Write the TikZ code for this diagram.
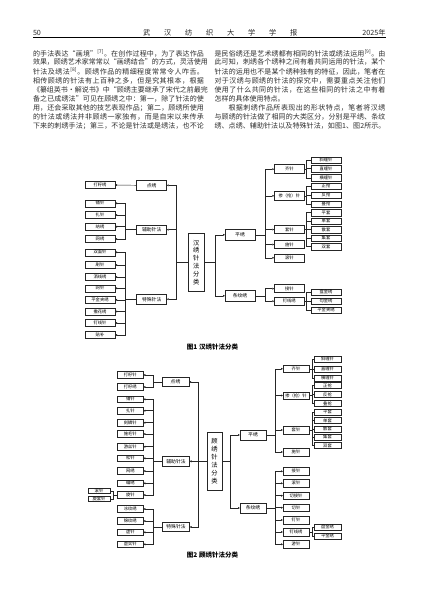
\documentclass[tikz,border=0pt]{standalone}
\usepackage{fontspec}
\setmainfont{Liberation Serif}
\newfontfamily\cjk{Noto Sans CJK SC}
\usetikzlibrary{arrows.meta}
\def\spreadtxt#1{#1\spreadnxt}
\def\spreadnxt#1{\ifx#1\relax\else\hfil#1\expandafter\spreadnxt\fi}
\newcommand\jline[1]{\hbox to 171pt{\spreadtxt#1\relax}}
\newcommand\rfA{\textsuperscript{[7]}}
\newcommand\rfB{\textsuperscript{[8]}}
\newcommand\rfC{\textsuperscript{[9]}}
\begin{document}
\begin{tikzpicture}[x=1pt,y=-1pt,
  every node/.style={inner sep=0pt, outer sep=0pt},
  txt/.style={font=\cjk\fontsize{7}{9}\selectfont, anchor=west, text=black!82},
  hd/.style={font=\cjk\fontsize{7.2}{9}\selectfont, text=black!85},
  bx/.style={draw=black!85, line width=0.45pt, fill=white, font=\cjk\fontsize{4.3}{5}\selectfont},
  lcA/.style={bx, minimum width=30pt, minimum height=7pt},
  mdA/.style={bx, minimum width=30pt, minimum height=9.5pt, font=\cjk\fontsize{4.8}{5}\selectfont},
  chA/.style={bx, minimum width=30pt, minimum height=8pt},
  sbA/.style={bx, minimum width=30pt, minimum height=6.5pt},
  lcB/.style={bx, minimum width=26pt, minimum height=6.7pt},
  mdB/.style={bx, minimum width=27pt, minimum height=9.3pt, font=\cjk\fontsize{4.8}{5}\selectfont},
  chB/.style={bx, minimum width=26pt, minimum height=7.5pt},
  sbB/.style={bx, minimum width=26.5pt, minimum height=6pt},
  ctr/.style={bx, minimum width=15.7pt, minimum height=57.6pt, align=center, font=\cjk\fontsize{6.3}{7.9}\selectfont},
  ln/.style={draw=black!85, line width=0.45pt},
  arr/.style={ln, -{Triangle[length=2pt,width=1.8pt]}},
  capt/.style={font=\cjk\bfseries\fontsize{6.5}{8}\selectfont}
]
\fill[white] (0,0) rectangle (427,603);
\useasboundingbox (0,0) rectangle (427,603);

% header
\node[hd, anchor=west] (pg) at (33,33) {50};
\foreach \c/\x [count=\i] in {武/143,汉/164,纺/185,织/206,大/227,学/248,学/269,报/290}
  \node[hd, anchor=west] (hc\i) at (\x,33) {\c};
\node[hd, anchor=east] (yr) at (385.5,33) {2025年};
\coordinate (rl) at (33,37.5);
\coordinate (rr) at (385.5,37.5);
\draw[line width=0.5pt] (rl) -- (rr);

% left column text
\node[txt] (l1) at (33,53.3) {\jline{的手法表达“画境”\rfA。在创作过程中，为了表达作品}};
\node[txt] (l2) at (33,62.4) {\jline{效果，顾绣艺术家常常以“画绣结合”的方式，灵活使用}};
\node[txt] (l3) at (33,71.5) {\jline{针法及绣法\rfB。顾绣作品的精细程度常常令人咋舌。}};
\node[txt] (l4) at (33,80.6) {\jline{相传顾绣的针法有上百种之多，但是究其根本，根据}};
\node[txt] (l5) at (33,89.7) {\jline{《纂组英书·解说书》中“顾绣主要继承了宋代之前最完}};
\node[txt] (l6) at (33,98.8) {\jline{备之已成绣法”可见在顾绣之中：第一，除了针法的使}};
\node[txt] (l7) at (33,107.9) {\jline{用，还会采取其他的技艺表现作品；第二，顾绣所使用}};
\node[txt] (l8) at (33,117.0) {\jline{的针法或绣法并非顾绣一家独有，而是自宋以来传承}};
\node[txt] (l9) at (33,126.1) {\jline{下来的刺绣手法；第三，不论是针法或是绣法，也不论}};
% right column text
\node[txt] (r1) at (214.5,53.3) {\jline{是民俗绣还是艺术绣都有相同的针法或绣法运用\rfC。由}};
\node[txt] (r2) at (214.5,62.4) {\jline{此可知，刺绣各个绣种之间有着共同运用的针法，某个}};
\node[txt] (r3) at (214.5,71.5) {\jline{针法的运用也不是某个绣种独有的特征，因此，笔者在}};
\node[txt] (r4) at (214.5,80.6) {\jline{对于汉绣与顾绣的针法的探究中，需要重点关注他们}};
\node[txt] (r5) at (214.5,89.7) {\jline{使用了什么共同的针法，在这些相同的针法之中有着}};
\node[txt] (r6) at (214.5,98.8) {怎样的具体使用特点。};
\node[txt] (r7) at (228.5,107.9) {\hbox to 157pt{\spreadtxt 根据刺绣作品所表现出的形状特点，笔者将汉绣\relax}};
\node[txt] (r8) at (214.5,117.0) {\jline{与顾绣的针法做了相同的大类区分，分别是平绣、条纹}};
\node[txt] (r9) at (214.5,126.1) {\jline{绣、点绣、辅助针法以及特殊针法，如图1、图2所示。}};

%%%%%%%%%%%%%%%% Figure 1
\node[ctr] (A0) at (196.2,262.5) {汉\\绣\\针\\法\\分\\类};
\coordinate (tAL) at (176.7,262);
\coordinate (sAL) at (125,262);
\coordinate (tAR) at (215,262);
\coordinate (cAR) at (265,262);
\coordinate (sAR) at (306.7,262);

\node[mdA] (Adx) at (151.7,185.3) {点绣};
\node[mdA] (Afz) at (151.7,229.7) {辅助针法};
\node[mdA] (Ats) at (151.7,299.2) {特殊针法};
\node[lcA] (Adx1) at (100,185) {打籽绣};
\foreach \t/\y [count=\i] in {铺针/203.3,扎针/215,纳绣/226.7,网绣/239}
  \node[lcA] (Afz\i) at (100,\y) {\t};
\foreach \t/\y [count=\i] in {双面针/252.3,刷针/265,洒线绣/277,网针/288.3,平金夹绣/299.8,撒花绣/311.5,钉线针/323,贴补/335}
  \node[lcA] (Ats\i) at (100,\y) {\t};

\node[chA, minimum height=11pt, font=\cjk\fontsize{4.8}{5}\selectfont] (Apx) at (240,234.8) {平绣};
\node[chA, minimum height=11pt, font=\cjk\fontsize{4.8}{5}\selectfont] (Atw) at (240,295.8) {条纹绣};
\node[chA, minimum height=9pt] (Aqz) at (289.3,169.2) {齐针};
\node[chA, minimum height=9pt] (Acz) at (289.3,195.8) {掺（抢）针};
\node[chA] (Atz) at (289.3,229.5) {套针};
\node[chA] (Asz) at (289.3,244.5) {施针};
\node[chA] (Agz) at (289.3,257.8) {滚针};
\node[chA] (Ajz) at (289.3,288.7) {接针};
\node[chA] (Adxx) at (289.3,301.2) {钉线绣};
\foreach \t/\y [count=\i] in {斜缠针/160.3,直缠针/168.7,横缠针/177.8}
  \node[sbA] (Aqz\i) at (326,\y) {\t};
\foreach \t/\y [count=\i] in {正抢/186.3,反抢/195.3,叠抢/204.3}
  \node[sbA] (Acz\i) at (326,\y) {\t};
\foreach \t/\y [count=\i] in {平套/212.7,单套/221.3,散套/229.7,集套/238.3,双套/246.7}
  \node[sbA] (Atz\i) at (326,\y) {\t};
\foreach \t/\y [count=\i] in {盘金绣/292.3,勾金绣/301.3,平金夹绣/310.3}
  \node[sbA] (Adxx\i) at (326,\y) {\t};

\foreach \n in {Adx,Afz,Ats} \draw[arr] (A0.west |- tAL) -- (tAL) |- (\n.east);
\draw[arr] (Adx.west) -- (Adx1.east);
\foreach \i in {1,...,4} \draw[arr] (Afz.west) -- (Afz.west -| sAL) |- (Afz\i.east);
\foreach \i in {1,...,8} \draw[arr] (Ats.west) -- (Ats.west -| sAL) |- (Ats\i.east);
\foreach \n in {Apx,Atw} \draw[arr] (A0.east |- tAR) -- (tAR) |- (\n.west);
\foreach \n in {Aqz,Acz,Atz,Asz,Agz} \draw[arr] (Apx.east) -- (Apx.east -| cAR) |- (\n.west);
\foreach \n in {Ajz,Adxx} \draw[arr] (Atw.east) -- (Atw.east -| cAR) |- (\n.west);
\foreach \i in {1,2,3} \draw[ln] (Aqz.east) -- (Aqz.east -| sAR) |- (Aqz\i.west);
\foreach \i in {1,2,3} \draw[ln] (Acz.east) -- (Acz.east -| sAR) |- (Acz\i.west);
\foreach \i in {1,...,5} \draw[ln] (Atz.east) -- (Atz.east -| sAR) |- (Atz\i.west);
\foreach \i in {1,2,3} \draw[ln] (Adxx.east) -- (Adxx.east -| sAR) |- (Adxx\i.west);

\node[capt] (capA) at (212.5,347) {图1\hspace{2pt}汉绣针法分类};

%%%%%%%%%%%%%%%% Figure 2
\node[ctr, minimum width=15pt, minimum height=58pt] (B0) at (214.5,461) {顾\\绣\\针\\法\\分\\类};
\coordinate (tBL) at (198.3,461);
\coordinate (sBL) at (153.3,461);
\coordinate (xBL) at (113,461);
\coordinate (tBR) at (230,461);
\coordinate (cBR) at (275,461);
\coordinate (sBR) at (312,461);

\node[mdB] (Bdx) at (175.5,382) {点绣};
\node[mdB] (Bfz) at (176,461.3) {辅助针法};
\node[mdB] (Bts) at (176,527) {特殊针法};
\foreach \t/\y [count=\i] in {打籽针/375,打籽绣/387}
  \node[lcB] (Bdx\i) at (130.3,\y) {\t};
\foreach \t/\y [count=\i] in {铺针/399.3,扎针/410.7,刻鳞针/422.7,施毛针/434,游丝针/446.7,松针/458.3,网绣/471,编绣/483.3,旋针/495}
  \node[lcB] (Bfz\i) at (130.3,\y) {\t};
\node[bx, minimum width=22pt, minimum height=5pt] (Bfz9a) at (99,490.8) {滚针};
\node[bx, minimum width=22pt, minimum height=5pt] (Bfz9b) at (99,499.2) {旋套针};
\foreach \t/\y [count=\i] in {冰纹绣/509,锦纹绣/521,虚针/532.3,虚实针/544.3}
  \node[lcB] (Bts\i) at (130.3,\y) {\t};

\node[chB, minimum height=10pt, font=\cjk\fontsize{4.8}{5}\selectfont] (Bpx) at (253,435) {平绣};
\node[chB, minimum height=10pt, font=\cjk\fontsize{4.8}{5}\selectfont] (Btw) at (253,508) {条纹绣};
\node[chB] (Bqz) at (296,368.8) {齐针};
\node[chB] (Bcz) at (296,395.5) {掺（抢）针};
\node[chB] (Btz) at (296,430) {套针};
\node[chB] (Bsz) at (296,452) {施针};
\foreach \t/\y [count=\i] in {接针/471.3,滚针/483.3,切接针/495.7,切针/507.7,钉针/520,钉线绣/532,游针/544.3}
  \node[chB] (Btw\i) at (296,\y) {\t};
\foreach \t/\y [count=\i] in {斜缠针/359,直缠针/369,横缠针/378}
  \node[sbB] (Bqz\i) at (327.5,\y) {\t};
\foreach \t/\y [count=\i] in {正抢/385.5,反抢/394.5,叠抢/403.7}
  \node[sbB] (Bcz\i) at (327.5,\y) {\t};
\foreach \t/\y [count=\i] in {平套/412,单套/420.5,散套/428.8,集套/437,双套/445.5}
  \node[sbB] (Btz\i) at (327.5,\y) {\t};
\foreach \t/\y [count=\i] in {盘金绣/527,平金绣/536}
  \node[sbB] (Bdx6\i) at (327.5,\y) {\t};

\foreach \n in {Bdx,Bfz,Bts} \draw[arr] (B0.west) -- (B0.west -| tBL) |- (\n.east);
\foreach \i in {1,2} \draw[arr] (Bdx.west) -- (Bdx.west -| sBL) |- (Bdx\i.east);
\foreach \i in {1,...,9} \draw[arr] (Bfz.west) -- (Bfz.west -| sBL) |- (Bfz\i.east);
\foreach \i in {1,...,4} \draw[arr] (Bts.west) -- (Bts.west -| sBL) |- (Bts\i.east);
\foreach \n in {Bfz9a,Bfz9b} \draw[ln] (Bfz9.west) -- (Bfz9.west -| xBL) |- (\n.east);
\foreach \n in {Bpx,Btw} \draw[arr] (B0.east) -- (B0.east -| tBR) |- (\n.west);
\foreach \n in {Bqz,Bcz,Btz,Bsz} \draw[arr] (Bpx.east) -- (Bpx.east -| cBR) |- (\n.west);
\foreach \i in {1,...,7} \draw[arr] (Btw.east) -- (Btw.east -| cBR) |- (Btw\i.west);
\foreach \i in {1,2,3} \draw[ln] (Bqz.east) -- (Bqz.east -| sBR) |- (Bqz\i.west);
\foreach \i in {1,2,3} \draw[ln] (Bcz.east) -- (Bcz.east -| sBR) |- (Bcz\i.west);
\foreach \i in {1,...,5} \draw[ln] (Btz.east) -- (Btz.east -| sBR) |- (Btz\i.west);
\foreach \i in {1,2} \draw[ln] (Btw6.east) -- (Btw6.east -| sBR) |- (Bdx6\i.west);

\node[capt] (capB) at (212.5,555) {图2\hspace{2pt}顾绣针法分类};
\end{tikzpicture}
\end{document}
